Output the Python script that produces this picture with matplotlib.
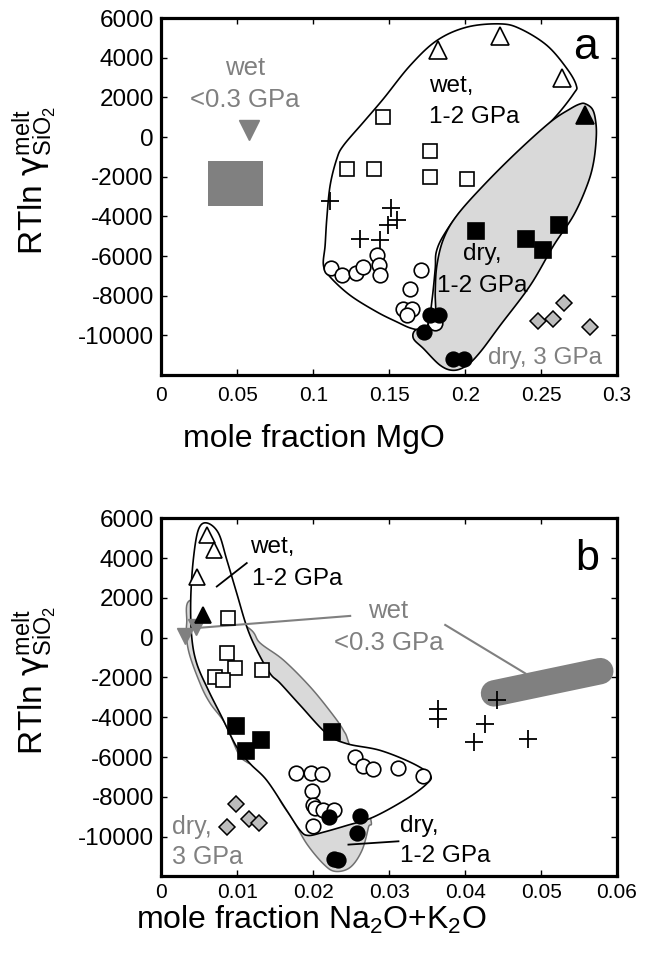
import numpy as np
import matplotlib.pyplot as plt

plt.rcParams['font.family'] = ['Liberation Sans', 'DejaVu Sans']
plt.rcParams['mathtext.fontset'] = 'custom'
plt.rcParams['mathtext.rm'] = 'Liberation Sans'
plt.rcParams['mathtext.it'] = 'Liberation Sans:italic'
plt.rcParams['mathtext.sf'] = 'DejaVu Sans'

GRAY = '#808080'
LIGHT = '#d9d9d9'

# ---------------- panel a: x = mole fraction MgO ----------------
a_tri_open_x = [0.182, 0.223, 0.264]
a_tri_open_y = [4400, 5100, 3000]
a_tri_fill_x = [0.279]
a_tri_fill_y = [1100]
a_sq_open_x = [0.146, 0.177, 0.122, 0.140, 0.177, 0.201]
a_sq_open_y = [1000, -700, -1630, -1600, -2000, -2100]
a_sq_fill_x = [0.207, 0.240, 0.251, 0.262]
a_sq_fill_y = [-4740, -5160, -5710, -4450]
a_plus_x = [0.111, 0.151, 0.155, 0.149, 0.131, 0.144]
a_plus_y = [-3200, -3580, -4200, -4420, -5130, -5210]
a_circ_open_x = [0.180, 0.112, 0.119, 0.128, 0.133, 0.142, 0.143, 0.144, 0.171, 0.164, 0.159, 0.165, 0.162]
a_circ_open_y = [-9400, -6600, -6980, -6840, -6550, -5970, -6470, -6940, -6720, -7680, -8690, -8690, -8990]
a_circ_fill_x = [0.177, 0.183, 0.173, 0.192, 0.199]
a_circ_fill_y = [-8990, -8990, -9830, -11210, -11170]
a_dia_x = [0.248, 0.258, 0.265, 0.282]
a_dia_y = [-9290, -9190, -8350, -9580]
a_lowp_tri = (0.058, 330)
a_lowp_box_x = [0.031, 0.067]
a_lowp_box_y = [-3500, -1200]

a_wet_x = [0.1067, 0.1078, 0.1089, 0.1111, 0.1155, 0.1199, 0.1331, 0.1462, 0.1638, 0.1814,
           0.2012, 0.2231, 0.2363, 0.2539, 0.2671, 0.2732, 0.2714, 0.2583, 0.2363, 0.2144,
           0.1968, 0.1858, 0.1810, 0.1803, 0.1783, 0.1757, 0.1704, 0.1638, 0.1551, 0.1419,
           0.1243, 0.1111]
a_wet_y = [-6471, -5463, -4118, -2439, -1094, -423, 756, 1930, 3609, 4869,
           5544, 5706, 5458, 4617, 3442, 2601, 2182, 922, -756, -2439,
           -3780, -4959, -5796, -6638, -8150, -9410, -9697, -9626, -9324, -8820,
           -7983, -7056]
a_dry_x = [0.2792, 0.2836, 0.2857, 0.2864, 0.2846, 0.2803, 0.2714, 0.2583, 0.2429, 0.2231,
           0.2100, 0.2012, 0.1924, 0.1836, 0.1726, 0.1660, 0.1671, 0.1748, 0.1803, 0.1803,
           0.1814, 0.1858, 0.1946, 0.2121, 0.2341, 0.2561, 0.2693, 0.2758]
a_dry_y = [1673, 1426, 922, 81, -1260, -2439, -3951, -5463, -7479, -9495,
           -10836, -11511, -11763, -11511, -10670, -10166, -9747, -9576, -9158, -7812,
           -6471, -5126, -3951, -2439, -756, 756, 1426, 1673]

# ---------------- panel b: x = mole fraction Na2O+K2O ----------------
b_tri_open_x = [0.0060, 0.0069, 0.0047]
b_tri_open_y = [5180, 4420, 3060]
b_tri_fill_x = [0.0055]
b_tri_fill_y = [1140]
b_sq_open_x = [0.0088, 0.0087, 0.0097, 0.0133, 0.0071, 0.0081]
b_sq_open_y = [980, -770, -1540, -1630, -1980, -2130]
b_sq_fill_x = [0.0098, 0.0112, 0.0131, 0.0225]
b_sq_fill_y = [-4450, -5700, -5160, -4740]
b_plus_x = [0.0364, 0.0364, 0.0426, 0.0412, 0.0442, 0.0483]
b_plus_y = [-3560, -4110, -4320, -5220, -3140, -5100]
b_circ_open_x = [0.0177, 0.0197, 0.0211, 0.0198, 0.0200, 0.0202, 0.0213, 0.0227, 0.0199,
                 0.0255, 0.0266, 0.0279, 0.0312, 0.0344]
b_circ_open_y = [-6790, -6820, -6830, -7680, -8400, -8580, -8680, -8650, -9440,
                 -6010, -6440, -6620, -6570, -6970]
b_circ_fill_x = [0.0221, 0.0261, 0.0258, 0.0227, 0.0233]
b_circ_fill_y = [-9020, -8940, -9790, -11130, -11150]
b_dia_x = [0.0098, 0.0115, 0.0129, 0.0086]
b_dia_y = [-8350, -9100, -9320, -9530]
b_lowp_tri_x = [0.0031, 0.0046]
b_lowp_tri_y = [90, 550]
b_lowp_bar_x = [0.0438, 0.0578]
b_lowp_bar_y = [-2800, -1680]

b_wet_x = [0.00597, 0.00750, 0.00861, 0.00992, 0.01124, 0.01256, 0.01431, 0.01564, 0.01828,
           0.02178, 0.02442, 0.02882, 0.03320, 0.03540, 0.03497, 0.03233, 0.02793, 0.02442,
           0.02134, 0.01936, 0.01827, 0.01651, 0.01388, 0.01168, 0.00992, 0.00795, 0.00618,
           0.00465, 0.00399, 0.00386, 0.00420, 0.00487]
b_wet_y = [5766, 5262, 3916, 2234, 551, -623, -1799, -2288, -3397,
           -4823, -5327, -5664, -6335, -6915, -7333, -8089, -9012, -9435,
           -9773, -9939, -9687, -8683, -7171, -6330, -5492, -3982, -2637,
           -1291, 48, 1900, 3916, 5428]
b_dry_x = [0.00416, 0.00333, 0.00355, 0.00509, 0.00641, 0.00838, 0.01014, 0.01124, 0.01300,
           0.01454, 0.01563, 0.01738, 0.01915, 0.02134, 0.02288, 0.02486, 0.02640, 0.02727,
           0.02749, 0.02477, 0.02397, 0.02245, 0.01959, 0.01607, 0.01300, 0.01124]
b_dry_y = [1900, 726, -620, -2298, -3291, -4314, -5826, -6250, -6582,
           -7172, -8180, -9188, -10362, -11370, -11743, -11542, -10700, -9526,
           -8986, -5408, -4652, -3810, -2470, -1124, -267, 554]

y_ticks = [6000, 4000, 2000, 0, -2000, -4000, -6000, -8000, -10000]
a_xticks = [0, 0.05, 0.1, 0.15, 0.2, 0.25, 0.3]
b_xticks = [0, 0.01, 0.02, 0.03, 0.04, 0.05, 0.06]


def smooth_closed(xs, ys, n=10):
    # closed Catmull-Rom curve through the traced outline points
    p = np.column_stack([xs, ys])
    m = len(p)
    out = []
    t = np.linspace(0, 1, n, endpoint=False)[:, None]
    for i in range(m):
        p0, p1, p2, p3 = p[i - 1], p[i], p[(i + 1) % m], p[(i + 2) % m]
        seg = 0.5 * (2 * p1 + (-p0 + p2) * t + (2 * p0 - 5 * p1 + 4 * p2 - p3) * t ** 2
                     + (-p0 + 3 * p1 - 3 * p2 + p3) * t ** 3)
        out.append(seg)
    out = np.vstack(out)
    return out[:, 0], out[:, 1]


def style_axes(ax, xticks, xpad):
    ax.set_xlim(xticks[0], xticks[-1])
    ax.set_ylim(-12000, 6000)
    ax.set_xticks(xticks)
    ax.set_xticklabels(['%g' % v for v in xticks])
    ax.set_yticks(y_ticks)
    ax.set_yticklabels(['%d' % v for v in y_ticks])
    ax.tick_params(direction='in', top=True, right=True, length=4.5, width=1)
    ax.tick_params(axis='x', labelsize=15, pad=xpad)
    ax.tick_params(axis='y', labelsize=17.5, pad=5.5)
    for s in ax.spines.values():
        s.set_linewidth(2.3)


def draw_points(ax, d, tri_ms=12):
    k = dict(linestyle='none', zorder=5)
    ax.plot(d['tri_o'][0], d['tri_o'][1], marker='^', ms=tri_ms, mfc='white', mec='black', mew=1.2, **k)
    ax.plot(d['tri_f'][0], d['tri_f'][1], marker='^', ms=tri_ms, mfc='black', mec='black', mew=1.2, **k)
    ax.plot(d['sq_o'][0], d['sq_o'][1], marker='s', ms=10, mfc='white', mec='black', mew=1.2, **k)
    ax.plot(d['sq_f'][0], d['sq_f'][1], marker='s', ms=11, mfc='black', mec='black', mew=1.2, **k)
    ax.plot(d['plus'][0], d['plus'][1], marker='+', ms=13, mec='black', mew=1.3, **k)
    ax.plot(d['c_o'][0], d['c_o'][1], marker='o', ms=10.5, mfc='white', mec='black', mew=1.2, **k)
    ax.plot(d['c_f'][0], d['c_f'][1], marker='o', ms=10.5, mfc='black', mec='black', mew=1.2, **k)
    ax.plot(d['dia'][0], d['dia'][1], marker='D', ms=8.2, mfc='#bdbdbd', mec='black', mew=1.1, **k)


fig = plt.figure(figsize=(6.49, 9.55), dpi=100)
ax_a = fig.add_axes([0.2487, 0.6073, 0.702, 0.3738])
ax_b = fig.add_axes([0.2487, 0.0822, 0.702, 0.3751])

# ---- panel a ----
wx, wy = smooth_closed(a_wet_x, a_wet_y)
ax_a.fill(wx, wy, facecolor='white', edgecolor='black', lw=1.2, zorder=1)
dx, dy = smooth_closed(a_dry_x, a_dry_y)
ax_a.fill(dx, dy, facecolor=LIGHT, edgecolor='black', lw=1.2, zorder=2)
ax_a.fill_between(a_lowp_box_x, a_lowp_box_y[0], a_lowp_box_y[1], color=GRAY, lw=0, zorder=3)
ax_a.plot([a_lowp_tri[0]], [a_lowp_tri[1]], marker='v', ms=15, color=GRAY, zorder=3)
draw_points(ax_a, {'tri_o': (a_tri_open_x, a_tri_open_y), 'tri_f': (a_tri_fill_x, a_tri_fill_y),
                   'sq_o': (a_sq_open_x, a_sq_open_y), 'sq_f': (a_sq_fill_x, a_sq_fill_y),
                   'plus': (a_plus_x, a_plus_y), 'c_o': (a_circ_open_x, a_circ_open_y),
                   'c_f': (a_circ_fill_x, a_circ_fill_y), 'dia': (a_dia_x, a_dia_y)}, tri_ms=13)
ax_a.text(0.0551, 3105, 'wet', color=GRAY, fontsize=18.5, ha='center', va='baseline')
ax_a.text(0.0551, 1512, '<0.3 GPa', color=GRAY, fontsize=18.5, ha='center', va='baseline')
ax_a.text(0.1759, 2268, 'wet,', fontsize=17.5, va='baseline', zorder=6)
ax_a.text(0.1759, 721, '1-2 GPa', fontsize=17.5, va='baseline', zorder=6)
ax_a.text(0.1986, -6219, 'dry,', fontsize=17.5, va='baseline', zorder=6)
ax_a.text(0.1818, -7812, '1-2 GPa', fontsize=17.5, va='baseline', zorder=6)
ax_a.text(0.2148, -11426, 'dry, 3 GPa', color=GRAY, fontsize=17.5, va='baseline', zorder=6)
ax_a.text(0.279, 3946, 'a', fontsize=32, ha='center', va='baseline', zorder=6)
style_axes(ax_a, a_xticks, 8)

# ---- panel b ----
dx, dy = smooth_closed(b_dry_x, b_dry_y)
ax_b.fill(dx, dy, facecolor=LIGHT, edgecolor='#707070', lw=1.1, zorder=1)
wx, wy = smooth_closed(b_wet_x, b_wet_y)
ax_b.fill(wx, wy, facecolor='white', edgecolor='black', lw=1.2, zorder=2)
ax_b.plot(b_lowp_bar_x, b_lowp_bar_y, color=GRAY, lw=19, solid_capstyle='round', zorder=3)
ax_b.plot([0.02486, 0.0042], [1094, 474], color=GRAY, lw=1.5, zorder=3)
ax_b.plot([0.03738, 0.04792], [640, -1794], color=GRAY, lw=1.5, zorder=3)
ax_b.plot(b_lowp_tri_x, b_lowp_tri_y, linestyle='none', marker='v', ms=12, color=GRAY, zorder=4)
draw_points(ax_b, {'tri_o': (b_tri_open_x, b_tri_open_y), 'tri_f': (b_tri_fill_x, b_tri_fill_y),
                   'sq_o': (b_sq_open_x, b_sq_open_y), 'sq_f': (b_sq_fill_x, b_sq_fill_y),
                   'plus': (b_plus_x, b_plus_y), 'c_o': (b_circ_open_x, b_circ_open_y),
                   'c_f': (b_circ_fill_x, b_circ_fill_y), 'dia': (b_dia_x, b_dia_y)})
ax_b.plot([0.00729, 0.01124], [2570, 3750], color='black', lw=1.3, zorder=6)
ax_b.plot([0.02463, 0.03122], [-10398, -10231], color='black', lw=1.3, zorder=6)
ax_b.text(0.01168, 4254, 'wet,', fontsize=17.5, va='baseline', zorder=6)
ax_b.text(0.0119, 2656, '1-2 GPa', fontsize=17.5, va='baseline', zorder=6)
ax_b.text(0.0299, 978, 'wet', color=GRAY, fontsize=18.5, ha='center', va='baseline', zorder=6)
ax_b.text(0.0299, -620, '<0.3 GPa', color=GRAY, fontsize=18.5, ha='center', va='baseline', zorder=6)
ax_b.text(0.03145, -9778, 'dry,', fontsize=17.5, va='baseline', zorder=6)
ax_b.text(0.03145, -11290, '1-2 GPa', fontsize=17.5, va='baseline', zorder=6)
ax_b.text(0.00136, -9858, 'dry,', color=GRAY, fontsize=18, va='baseline', zorder=6)
ax_b.text(0.00136, -11370, '3 GPa', color=GRAY, fontsize=18, va='baseline', zorder=6)
ax_b.text(0.05605, 3412, 'b', fontsize=31, ha='center', va='baseline', zorder=6)
style_axes(ax_b, b_xticks, 5)

# axis labels
ylab = r'RTln $\mathsf{\gamma}^{\rm melt}_{\rm SiO_2}$'
fig.text(35 / 649, 1 - 180 / 955, ylab, rotation=90, fontsize=24, ha='center', va='center')
fig.text(35 / 649, 1 - 680 / 955, ylab, rotation=90, fontsize=24, ha='center', va='center')
fig.text(314 / 649, 1 - 447 / 955, 'mole fraction MgO', fontsize=23, ha='center', va='baseline')
fig.text(311 / 649, 1 - 929 / 955, r'mole fraction Na$_2$O+K$_2$O', fontsize=23, ha='center', va='baseline')

fig.savefig('out.png', dpi=100)
